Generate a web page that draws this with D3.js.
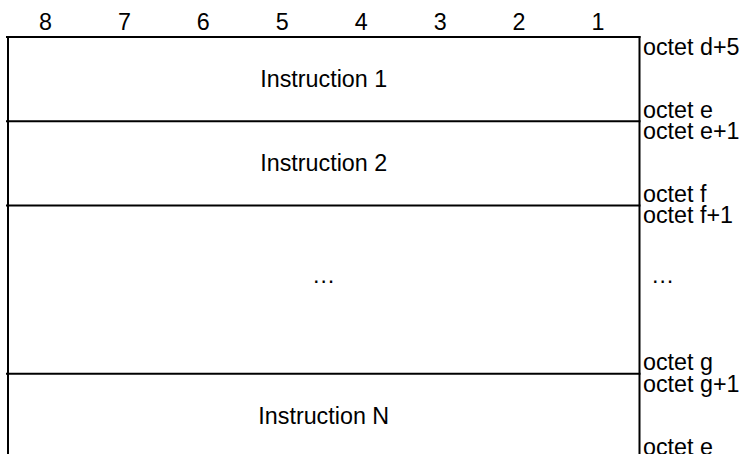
<!DOCTYPE html>
<html>
<head>
<meta charset="utf-8">
<script src="https://cdn.jsdelivr.net/npm/d3@7"></script>
<style>
  html, body { margin: 0; padding: 0; background: #fff; }
  svg { display: block; }
  text { font-family: "Liberation Sans", Arial, sans-serif; font-size: 23.3px; fill: #000; }
</style>
</head>
<body>
<svg id="chart" width="747" height="454"></svg>
<script>
// Bit numbers across the top
const bitLabels = ["8", "7", "6", "5", "4", "3", "2", "1"];
// Rows of the field diagram
const rowNames = ["Instruction 1", "Instruction 2", "\u2026", "Instruction N"];
const rowSpans = [1, 1, 2, 1];
const rowTopOctets = ["octet d+5", "octet e+1", "octet f+1", "octet g+1"];
const rowBottomOctets = ["octet e", "octet f", "octet g", "octet e"];
const rowMiddleNotes = ["", "", "\u2026", ""];

(function () {
const svg = d3.select("#chart");
const W = 747, H = 454;
const mLeft = 8, mRight = 639.5, mTop = 37, unit = 84.2;

const totalUnits = d3.sum(rowSpans);
const x = d3.scaleBand().domain(bitLabels).range([mLeft - 2, mRight - 2]);
const y = d3.scaleLinear().domain([0, totalUnits]).range([mTop, mTop + totalUnits * unit]);

const starts = [];
rowSpans.reduce((acc, s) => { starts.push(acc); return acc + s; }, 0);
const rows = rowNames.map((n, i) => ({
  name: n, start: starts[i], end: starts[i] + rowSpans[i],
  topOct: rowTopOctets[i], botOct: rowBottomOctets[i], mid: rowMiddleNotes[i]
}));

// bit labels
svg.selectAll("text.bit").data(bitLabels).join("text")
  .attr("class", "bit")
  .attr("x", d => x(d) + x.bandwidth() / 2)
  .attr("y", 30)
  .attr("text-anchor", "middle")
  .text(d => d);

// horizontal lines at row starts
svg.selectAll("line.h").data(rows).join("line")
  .attr("class", "h")
  .attr("x1", mLeft - 2).attr("x2", mRight + 1)
  .attr("y1", d => y(d.start)).attr("y2", d => y(d.start))
  .attr("stroke", "#000").attr("stroke-width", 2);

// vertical lines
svg.selectAll("line.v").data([mLeft, mRight]).join("line")
  .attr("class", "v")
  .attr("x1", d => d).attr("x2", d => d)
  .attr("y1", y(0) - 1).attr("y2", H)
  .attr("stroke", "#000").attr("stroke-width", 2);

// row names
svg.selectAll("text.name").data(rows).join("text")
  .attr("class", "name")
  .attr("x", (mLeft + mRight) / 2)
  .attr("y", d => (y(d.start) + y(d.end)) / 2)
  .attr("dy", d => d.end - d.start > 1 ? "-0.28em" : "0.35em")
  .attr("text-anchor", "middle")
  .text(d => d.name);

// right octet labels
const rx = mRight + 3.5;
svg.selectAll("text.otop").data(rows).join("text")
  .attr("class", "otop")
  .attr("x", rx)
  .attr("y", d => y(d.start) + 18)
  .text(d => d.topOct);

svg.selectAll("text.obot").data(rows).join("text")
  .attr("class", "obot")
  .attr("x", rx)
  .attr("y", d => y(d.end) - 3.5)
  .text(d => d.botOct);

svg.selectAll("text.omid").data(rows.filter(r => r.mid)).join("text")
  .attr("class", "omid")
  .attr("x", rx + 8)
  .attr("y", d => (y(d.start) + y(d.end)) / 2)
  .attr("dy", "-0.28em")
  .text(d => d.mid);
})();
</script>
</body>
</html>
